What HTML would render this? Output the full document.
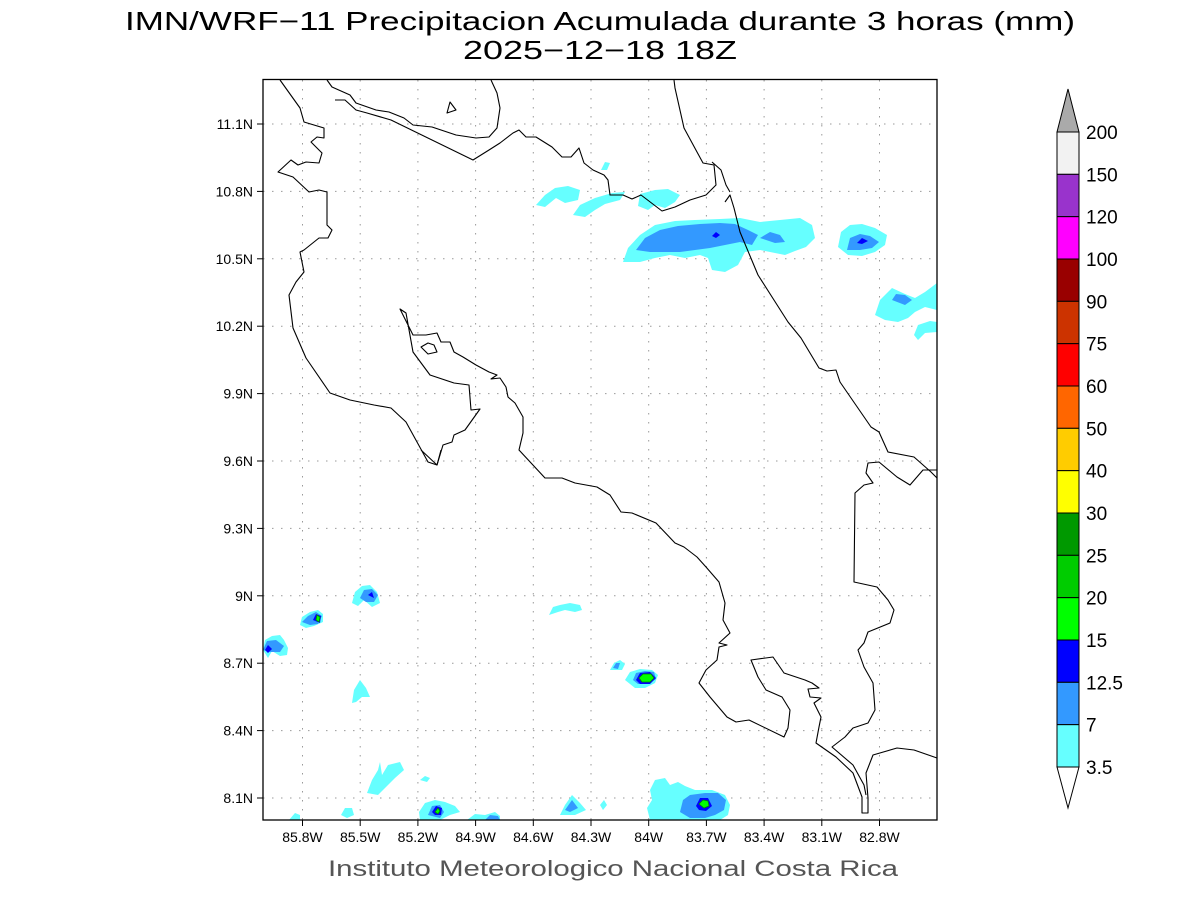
<!DOCTYPE html>
<html><head><meta charset="utf-8"><style>
html,body{margin:0;padding:0;background:#fff;}
svg{display:block;}
text{font-family:"Liberation Sans",sans-serif;}
</style></head><body>
<svg width="1200" height="900" viewBox="0 0 1200 900" xmlns="http://www.w3.org/2000/svg">
<rect width="1200" height="900" fill="#fff"/>
<text x="600" y="30" font-size="26" text-anchor="middle" textLength="950" lengthAdjust="spacingAndGlyphs" fill="#000">IMN/WRF−11 Precipitacion Acumulada durante 3 horas (mm)</text>
<text x="600" y="59" font-size="26" text-anchor="middle" textLength="274" lengthAdjust="spacingAndGlyphs" fill="#000">2025−12−18 18Z</text>

<g stroke="#999" stroke-width="1" stroke-dasharray="1.5,7.5">
<line x1="302.5" y1="80" x2="302.5" y2="820"/><line x1="360.2" y1="80" x2="360.2" y2="820"/><line x1="417.9" y1="80" x2="417.9" y2="820"/><line x1="475.6" y1="80" x2="475.6" y2="820"/><line x1="533.3" y1="80" x2="533.3" y2="820"/><line x1="591" y1="80" x2="591" y2="820"/><line x1="648.7" y1="80" x2="648.7" y2="820"/><line x1="706.4" y1="80" x2="706.4" y2="820"/><line x1="764.1" y1="80" x2="764.1" y2="820"/><line x1="821.8" y1="80" x2="821.8" y2="820"/><line x1="879.5" y1="80" x2="879.5" y2="820"/>
<line x1="263" y1="124" x2="937" y2="124"/><line x1="263" y1="191.4" x2="937" y2="191.4"/><line x1="263" y1="258.8" x2="937" y2="258.8"/><line x1="263" y1="326.2" x2="937" y2="326.2"/><line x1="263" y1="393.6" x2="937" y2="393.6"/><line x1="263" y1="461" x2="937" y2="461"/><line x1="263" y1="528.4" x2="937" y2="528.4"/><line x1="263" y1="595.8" x2="937" y2="595.8"/><line x1="263" y1="663.2" x2="937" y2="663.2"/><line x1="263" y1="730.6" x2="937" y2="730.6"/><line x1="263" y1="798" x2="937" y2="798"/>
</g>

<g>
<g fill="#66ffff">
<path d="M536,205 L545,195 L555,188 L568,186 L580,190 L578,200 L565,203 L556,198 L545,207 Z"/>
<path d="M573,215 L580,205 L595,198 L612,193 L625,192 L620,200 L605,204 L595,210 L585,217 Z"/>
<path d="M638,206 L640,194 L655,190 L668,189 L680,195 L675,202 L665,208 L655,205 L648,210 Z"/>
<path d="M601,170 L605,162 L610,163 L607,170 Z"/>
<path d="M623,262 L628,248 L640,235 L655,225 L675,221 L695,220 L720,219 L740,218 L760,222 L780,220 L800,218 L812,225 L815,238 L806,247 L795,251 L785,255 L775,253 L760,250 L745,252 L738,265 L725,272 L712,270 L708,258 L700,255 L685,258 L670,255 L655,258 L640,262 Z"/>
<path d="M838,247 L841,232 L850,225 L862,224 L875,228 L887,235 L885,245 L875,252 L862,256 L848,255 Z"/>
<path d="M875,315 L880,300 L892,288 L905,294 L915,298 L925,292 L937,283 L937,310 L925,307 L915,312 L908,318 L898,322 L885,320 Z"/>
<path d="M914,335 L918,325 L930,321 L937,322 L937,332 L925,333 L918,340 Z"/>
<path d="M352,603 L355,592 L362,586 L370,585 L377,592 L380,603 L372,607 L364,600 L358,606 Z"/>
<path d="M300,625 L302,617 L310,612 L318,610 L323,614 L323,622 L314,626 L306,628 Z"/>
<path d="M263,650 L265,640 L272,636 L280,635 L284,640 L288,648 L287,655 L280,656 L272,651 L268,658 Z"/>
<path d="M352,703 L354,690 L360,680 L366,688 L370,697 L362,697 L356,702 Z"/>
<path d="M549,615 L553,607 L560,605 L570,603 L580,605 L582,610 L575,612 L565,610 L558,612 Z"/>
<path d="M610,670 L614,663 L620,660 L625,664 L622,670 Z"/>
<path d="M625,680 L630,672 L640,669 L652,670 L658,675 L655,683 L645,688 L635,688 Z"/>
<path d="M367,793 L372,780 L378,770 L380,762 L382,775 L388,765 L400,762 L404,770 L395,778 L385,788 L378,795 Z"/>
<path d="M419,812 L425,803 L435,800 L445,802 L455,806 L460,812 L450,815 L440,820 L420,820 Z"/>
<path d="M560,815 L565,805 L572,795 L580,803 L586,810 L575,815 Z"/>
<path d="M647,808 L652,800 L650,790 L655,780 L665,778 L670,785 L678,782 L685,786 L695,790 L712,790 L725,795 L730,805 L728,815 L720,820 L650,820 Z"/>
<path d="M467,820 L475,814 L485,815 L495,812 L500,816 L500,820 Z"/>
<path d="M341,815 L345,808 L352,808 L354,815 L347,818 Z"/>
<path d="M289,820 L295,813 L300,815 L300,820 Z"/>
<path d="M420,780 L425,776 L430,778 L427,782 Z"/>
<path d="M600,805 L604,800 L607,805 L603,810 Z"/>
</g>
<g fill="#3399ff">
<path d="M636,250 L645,238 L660,230 L678,226 L700,224 L720,223 L735,224 L748,230 L758,235 L752,245 L740,242 L725,245 L710,248 L695,250 L680,252 L665,252 L650,252 Z"/>
<path d="M760,238 L770,232 L780,235 L785,242 L775,243 Z"/>
<path d="M847,250 L850,238 L860,234 L870,236 L879,242 L872,248 L860,250 Z"/>
<path d="M892,300 L896,294 L905,295 L912,300 L905,305 Z"/>
<path d="M360,598 L364,590 L372,589 L378,595 L374,602 L366,602 Z"/>
<path d="M302,622 L308,616 L316,612 L322,616 L318,624 L310,625 Z"/>
<path d="M263,650 L267,641 L276,640 L284,646 L280,652 L270,652 Z"/>
<path d="M633,680 L636,673 L645,671 L654,672 L656,679 L648,684 L638,684 Z"/>
<path d="M613,668 L616,663 L620,663 L618,669 Z"/>
<path d="M565,810 L572,800 L578,808 L570,812 Z"/>
<path d="M680,812 L683,800 L690,795 L705,793 L718,793 L726,800 L724,810 L715,815 L705,818 L690,818 Z"/>
<path d="M428,815 L432,806 L440,805 L444,812 L440,818 Z"/>
<path d="M485,820 L490,815 L498,816 L500,820 Z"/>
</g>
<g fill="#0000ff">
<path d="M712,236 L716,232 L720,235 L716,238 Z"/>
<path d="M857,243 L862,238 L868,241 L862,244 Z"/>
<path d="M368,595 L372,592 L374,598 Z"/>
<path d="M313,620 L316,614 L321,616 L320,623 Z"/>
<path d="M265,650 L268,645 L272,649 L268,653 Z"/>
<path d="M636,680 L640,673 L650,672 L656,678 L650,684 L640,684 Z"/>
<path d="M696,806 L700,798 L708,798 L712,806 L706,811 L699,810 Z"/>
<path d="M432,812 L436,806 L442,808 L441,815 L435,815 Z"/>
</g>
<g fill="#00ff00" stroke="#008800" stroke-width="0.8">
<path d="M316,620 L317,615 L320,617 L319,622 Z"/>
<path d="M639,678 L643,674 L651,674 L654,678 L650,682 L642,682 Z"/>
<path d="M699,804 L703,800 L708,801 L709,806 L704,808 Z"/>
<path d="M435,812 L438,808 L440,811 L438,814 Z"/>
</g>
</g>

<g fill="none" stroke="#000" stroke-width="1.1" stroke-linejoin="round">
<polyline points="280,80 300,108 304,122 324,128 324,138 317,137 311,142 322,153 319,163 306,162 298,165 291,160 278,172 293,177 309,192 319,190 327,192 327,225 332,230 328,238 319,238 304,250 300,252 304,272 296,282 289,295 293,328 306,358 330,393 350,400 374,405 391,408 406,422 428,462 437,465 443,445 452,442 454,435 465,430 480,409 471,410 469,385 454,383 430,375 413,352 406,313 400,309 413,335 426,335 437,333 441,342 450,342 454,352 463,357 476,365 489,372 497,375 491,379 500,378 506,387 508,397 515,403 523,417 523,433 519,450 545,478 562,478 575,483 597,487 610,495 621,512 632,513 656,523 675,543 684,547 697,557 706,567 719,582 725,603 723,620 730,633 719,643 727,645 719,647 717,660 706,670 699,683 710,697 727,717 736,722 749,720 784,737 788,728 790,710 782,697 766,690 758,677 751,660 773,657 784,673 805,680 812,683 819,688 808,689 810,697 821,698 814,703 821,717 819,727 816,743 836,757 853,773 862,797 862,813 868,813 868,798 866,773 873,755 897,748 914,750 937,758"/>
<polyline points="327,80 332,87 350,95 356,103 376,110 389,112 404,118 413,125 432,127 456,135 476,138 489,137 497,128 500,108 497,93 491,80"/>
<polyline points="335,100 345,100 356,110 367,113 391,120 473,160 489,150 500,143 513,133 519,130 526,137 536,137 552,147 562,157 571,157 579,148 584,163 593,170 604,175 608,180 610,195 623,195 632,199 641,195 662,211 675,207 690,200 706,195 716,185 714,165 703,163 697,152 684,128 675,88 674,80"/>
<polyline points="712,162 721,170 726,185 730,192"/>
<polyline points="725,202 730,195 734,208 740,232 758,275 788,322 801,338 819,368 827,371 836,370 840,382 871,427 879,432 888,452 914,457 931,472 937,478"/>
<polyline points="421,450 437,465 441,450"/>
<polygon points="421,347 428,343 434,345 437,352 428,354"/>
<polygon points="447,113 450,102 456,110"/>
<polyline points="937,470 923,470 910,485 897,477 879,462 868,463 866,473 873,483 864,485 855,493 854,582 877,587 888,600 894,610 890,623 868,632 864,643 858,650 864,667 873,683 875,710 868,723 853,728 845,737 832,747 853,765 864,785 866,795"/>
</g>

<rect x="263" y="79.5" width="674" height="740.5" fill="none" stroke="#000" stroke-width="1.3"/>
<g stroke="#000" stroke-width="1">
<line x1="302.5" y1="820" x2="302.5" y2="826"/><line x1="360.2" y1="820" x2="360.2" y2="826"/><line x1="417.9" y1="820" x2="417.9" y2="826"/><line x1="475.6" y1="820" x2="475.6" y2="826"/><line x1="533.3" y1="820" x2="533.3" y2="826"/><line x1="591" y1="820" x2="591" y2="826"/><line x1="648.7" y1="820" x2="648.7" y2="826"/><line x1="706.4" y1="820" x2="706.4" y2="826"/><line x1="764.1" y1="820" x2="764.1" y2="826"/><line x1="821.8" y1="820" x2="821.8" y2="826"/><line x1="879.5" y1="820" x2="879.5" y2="826"/>
<line x1="257" y1="124" x2="263" y2="124"/><line x1="257" y1="191.4" x2="263" y2="191.4"/><line x1="257" y1="258.8" x2="263" y2="258.8"/><line x1="257" y1="326.2" x2="263" y2="326.2"/><line x1="257" y1="393.6" x2="263" y2="393.6"/><line x1="257" y1="461" x2="263" y2="461"/><line x1="257" y1="528.4" x2="263" y2="528.4"/><line x1="257" y1="595.8" x2="263" y2="595.8"/><line x1="257" y1="663.2" x2="263" y2="663.2"/><line x1="257" y1="730.6" x2="263" y2="730.6"/><line x1="257" y1="798" x2="263" y2="798"/>
</g>
<g font-size="14" text-anchor="middle" fill="#000">
<text x="302.5" y="842">85.8W</text><text x="360.2" y="842">85.5W</text><text x="417.9" y="842">85.2W</text><text x="475.6" y="842">84.9W</text><text x="533.3" y="842">84.6W</text><text x="591" y="842">84.3W</text><text x="648.7" y="842">84W</text><text x="706.4" y="842">83.7W</text><text x="764.1" y="842">83.4W</text><text x="821.8" y="842">83.1W</text><text x="879.5" y="842">82.8W</text>
</g>
<g font-size="14" text-anchor="end" fill="#000">
<text x="253" y="129">11.1N</text><text x="253" y="196.4">10.8N</text><text x="253" y="263.8">10.5N</text><text x="253" y="331.2">10.2N</text><text x="253" y="398.6">9.9N</text><text x="253" y="466">9.6N</text><text x="253" y="533.4">9.3N</text><text x="253" y="600.8">9N</text><text x="253" y="668.2">8.7N</text><text x="253" y="735.6">8.4N</text><text x="253" y="803">8.1N</text>
</g>
<text x="613" y="876" font-size="22" text-anchor="middle" textLength="570" lengthAdjust="spacingAndGlyphs" fill="#555">Instituto Meteorologico Nacional Costa Rica</text>

<g stroke="#000" stroke-width="1">
<polygon points="1057,132 1079,132 1068,89" fill="#aaaaaa"/>
<rect x="1057" y="132" width="22" height="42.33" fill="#f2f2f2"/>
<rect x="1057" y="174.33" width="22" height="42.33" fill="#9933cc"/>
<rect x="1057" y="216.67" width="22" height="42.33" fill="#ff00ff"/>
<rect x="1057" y="259" width="22" height="42.33" fill="#990000"/>
<rect x="1057" y="301.33" width="22" height="42.33" fill="#cc3300"/>
<rect x="1057" y="343.67" width="22" height="42.33" fill="#ff0000"/>
<rect x="1057" y="386" width="22" height="42.33" fill="#ff6600"/>
<rect x="1057" y="428.33" width="22" height="42.33" fill="#ffcc00"/>
<rect x="1057" y="470.67" width="22" height="42.33" fill="#ffff00"/>
<rect x="1057" y="513" width="22" height="42.33" fill="#009900"/>
<rect x="1057" y="555.33" width="22" height="42.33" fill="#00cc00"/>
<rect x="1057" y="597.67" width="22" height="42.33" fill="#00ff00"/>
<rect x="1057" y="640" width="22" height="42.33" fill="#0000ff"/>
<rect x="1057" y="682.33" width="22" height="42.33" fill="#3399ff"/>
<rect x="1057" y="724.67" width="22" height="42.33" fill="#66ffff"/>
<polygon points="1057,767 1079,767 1068,808" fill="#fff"/>
</g>
<g font-size="19" fill="#000">
<text x="1086" y="139">200</text><text x="1086" y="181.3">150</text><text x="1086" y="223.7">120</text><text x="1086" y="266">100</text><text x="1086" y="308.3">90</text><text x="1086" y="350.7">75</text><text x="1086" y="393">60</text><text x="1086" y="435.3">50</text><text x="1086" y="477.7">40</text><text x="1086" y="520">30</text><text x="1086" y="562.3">25</text><text x="1086" y="604.7">20</text><text x="1086" y="647">15</text><text x="1086" y="689.3">12.5</text><text x="1086" y="731.7">7</text><text x="1086" y="774">3.5</text>
</g>
</svg>
</body></html>
